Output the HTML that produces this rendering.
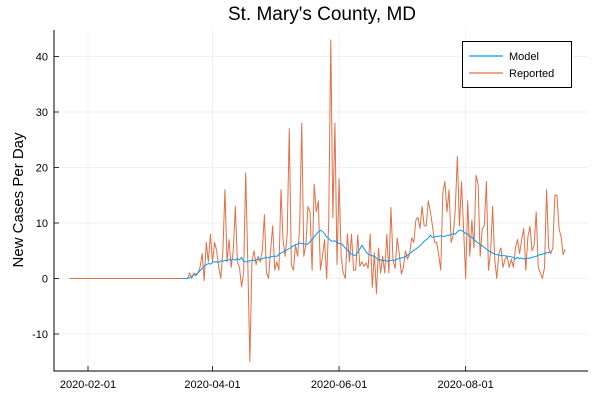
<!DOCTYPE html>
<html><head><meta charset="utf-8"><style>
body{margin:0;background:#fff;}
svg{display:block;font-family:"Liberation Sans","DejaVu Sans",sans-serif;}
</style></head><body>
<svg id="chart" width="600" height="400" viewBox="0 0 600 400">
<rect width="600" height="400" fill="#fff"/>
<text x="322" y="20" font-size="19" text-anchor="middle" fill="#000">St. Mary's County, MD</text>
<text transform="translate(23,200) rotate(-90)" font-size="15" text-anchor="middle" fill="#000">New Cases Per Day</text>
<g id="grid"></g><g id="axes"></g><g id="series"></g>
<g>
<rect x="462.5" y="41.5" width="109" height="46" fill="#fff" stroke="#000" stroke-width="1"/>
<line x1="469" y1="56" x2="503" y2="56" stroke="#009AFA" stroke-width="1.2"/>
<text x="509" y="60" font-size="11">Model</text>
<line x1="469" y1="73" x2="503" y2="73" stroke="#E26F46" stroke-width="1.2"/>
<text x="509" y="77" font-size="11">Reported</text>
</g>
</svg>
<script>
const yTicks=[-10,0,10,20,30,40];
const xTickLabels=["2020-02-01","2020-04-01","2020-06-01","2020-08-01"];
const modelStart="2020-03-17";
const reportedStart="2020-01-23";
const reportedLeadZeros=57;
const reportedValues=[0,1,0,1,0.5,1,2,4.5,-0.4,6.5,3,8,3,6.5,5,2,0,5,16,3,7,2,5,13,3,2,-1.5,1,19,3,-15,3,5,2.5,4,3,5,11.5,1,0,5,9.5,1.5,3,1.5,16,7,4,8,27,2.5,1.5,6,4,9,28,4,6,13,12,1.5,17,12,14,1.5,4,7,0,10,43,11,28,2.5,18,4,1,0,8,3,8,1.5,1.5,
7.8,2.2,3,2.2,2.8,1.8,8,-1.6,4.6,-2.7,5.5,1,4,1,8,1,12.8,3.3,1.8,7.3,4.5,0.8,2,5,3.5,4.5,7.3,6.5,10.5,11,9,13,9.5,9.5,14,12,9.5,6.5,6.5,4.3,1.5,15.5,17.5,12,16,6.5,7.8,12.5,22,9.5,17.4,9,0,14,4,10.5,5.5,18.6,17,4,9,9.5,17.5,1.5,4.5,13,3.5,0,4.5,5.5,2,3.5,4,2,3.5,2,5.5,7,4.5,7,9,1.5,7.5,9.4,5,6,12,2,1,0,2,16,5.5,4.5,5.5,15,15,9,7.5,4.3,5.3];
const modelValues=[0,0,0,0,0.2,0.4,0.6,0.8,1,1.4,1.8,2.2,2.5,2.7,2.6,2.9,3,3,2.9,3.2,3.1,3.3,3.2,3.4,3.3,3.5,3.3,3.6,3.4,3.8,3.1,3,3.1,3.2,3.3,3.2,3.4,3.5,3.4,3.6,3.7,3.8,3.7,3.9,4,4,4,4.3,4.6,4.8,5,5.2,5.4,5.6,5.9,6.1,6.2,6.4,6.3,6.2,6.2,6.2,6.6,7,7.5,8,8.4,8.7,8.5,8.1,7.5,7.2,6.8,6.7,6.8,6.5,6.3,6.3,5.9,5.5,5.1,4.7,4.4,4.2,4.2,4.7,5.3,6,5.4,4.8,4.4,4.2,4.1,4,3.7,3.3,3.4,3.2,3.3,3.1,3.2,3.3,3.3,3.3,3.5,3.6,3.7,3.8,3.9,4.2,4.5,4.8,5.1,5.3,5.6,5.9,6.3,6.7,7,7.3,7.8,7.4,7.5,7.6,7.6,7.7,7.6,7.6,7.8,7.8,7.9,8.1,8,8.4,8.7,8.7,8.4,8.1,8,7.6,7.4,7,6.7,6.4,6.1,5.9,5.6,5.3,5,4.8,4.6,4.4,4.3,4.2,4.2,4.1,4.1,4,4,3.9,3.8,3.5,3.8,3.6,3.7,3.5,3.6,3.6,3.7,3.8,3.9,4,4.2,4.3,4.4,4.5,4.6,4.7,4.8];

const NS="http://www.w3.org/2000/svg";
const DAY=86400000, ref=Date.UTC(2020,1,1);
function dayOf(s){const p=s.split("-");return (Date.UTC(+p[0],+p[1]-1,+p[2])-ref)/DAY;}
function xS(d){return 88+d*2.075;}
function yS(v){return 278.5-v*5.55;}
const L=54,R=588,T=30,B=371;
const grid=document.getElementById("grid"),axes=document.getElementById("axes"),ser=document.getElementById("series");
function mk(tag,attrs,parent){const e=document.createElementNS(NS,tag);for(const k in attrs)e.setAttribute(k,attrs[k]);parent.appendChild(e);return e;}
yTicks.forEach(v=>{
  const y=yS(v);
  const g=mk("line",{x1:L,x2:R,y1:y,y2:y,stroke:"#000","stroke-opacity":0.1,"stroke-width":0.6},grid);
  
  
  mk("line",{x1:L,x2:L+5,y1:y,y2:y,stroke:"#000","stroke-width":0.8},axes);
  const t=mk("text",{x:L-6,y:y+4,"font-size":11,"text-anchor":"end"},axes);
  t.textContent=v;
  
  
});
xTickLabels.forEach(s=>{
  const x=xS(dayOf(s));
  const g=mk("line",{x1:x,x2:x,y1:T,y2:B,stroke:"#000","stroke-opacity":0.1,"stroke-width":0.6},grid);
  
  
  mk("line",{x1:x,x2:x,y1:B,y2:B-5,stroke:"#000","stroke-width":0.8},axes);
  const t=mk("text",{x:x,y:B+17,"font-size":11,"text-anchor":"middle"},axes);
  t.textContent=s;
  
  
});
const ax1=mk("line",{x1:L,x2:L,y1:T,y2:B+0.5,stroke:"#000","stroke-width":1},axes);


const ax2=mk("line",{x1:L,x2:R,y1:B,y2:B,stroke:"#000","stroke-width":1},axes);



function line(start,vals,color,name){
  const d0=dayOf(start);
  const pts=vals.map((v,i)=>xS(d0+i).toFixed(2)+","+yS(v).toFixed(2)).join(" ");
  const p=mk("polyline",{points:pts,fill:"none",stroke:color,"stroke-width":1,"stroke-linejoin":"round"},ser);
  
  
}
const reportedAll=new Array(reportedLeadZeros).fill(0).concat(reportedValues);
line(reportedStart,reportedAll,"#E26F46","reported-line");
line(modelStart,modelValues,"#009AFA","model-line");
</script>
</body></html>
